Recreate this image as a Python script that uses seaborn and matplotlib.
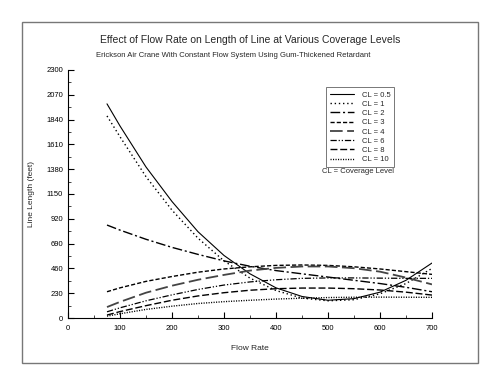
import numpy as np
import pandas as pd
import matplotlib
matplotlib.use("Agg")
import matplotlib.pyplot as plt
from matplotlib.patches import Rectangle
from matplotlib.ticker import MultipleLocator
import seaborn as sns

flow = [75, 100, 150, 200, 250, 300, 350, 400, 450, 500, 550, 600, 650, 700]

cl_05 = [1985, 1780, 1400, 1080, 800, 580, 410, 280, 200, 165, 180, 240, 350, 510]
cl_1 = [1873, 1680, 1310, 1000, 740, 530, 370, 255, 185, 160, 170, 225, 320, 460]
cl_2 = [862, 815, 730, 655, 590, 530, 480, 440, 410, 380, 350, 320, 285, 244]
cl_3 = [244, 280, 340, 385, 425, 455, 475, 488, 492, 488, 475, 455, 430, 405]
cl_4 = [102, 150, 235, 300, 355, 400, 440, 465, 478, 478, 462, 430, 375, 312]
cl_6 = [58, 95, 160, 215, 265, 306, 335, 355, 368, 372, 372, 370, 368, 368]
cl_8 = [28, 60, 115, 165, 205, 235, 258, 272, 278, 278, 272, 260, 240, 213]
cl_10 = [18, 40, 80, 110, 135, 152, 165, 176, 184, 190, 193, 194, 193, 192]

labels = ["CL = 0.5", "CL = 1", "CL = 2", "CL = 3", "CL = 4", "CL = 6", "CL = 8", "CL = 10"]
series = [cl_05, cl_1, cl_2, cl_3, cl_4, cl_6, cl_8, cl_10]

styles = [
    ("-", 0.8, "black"),
    ((0, (1, 2)), 1.0, "black"),
    ((0, (7, 2, 1.5, 2)), 1.0, "black"),
    ((0, (3, 1.5)), 1.0, "black"),
    ((0, (7, 2.5)), 1.3, "#444444"),
    ((0, (5, 1.5, 1, 1.5, 1, 1.5)), 0.9, "black"),
    ((0, (5, 2)), 1.0, "black"),
    ((0, (0.8, 1)), 1.0, "black"),
]

sns.set_style("ticks")
plt.rcParams["font.family"] = ["Liberation Sans", "DejaVu Sans"]

fig = plt.figure(figsize=(5, 3.86), dpi=100)
ax = fig.add_axes([0.136, 0.176, 0.728, 0.643])

for lab, vals, (ls, lw, col) in zip(labels, series, styles):
    sns.lineplot(x=flow, y=vals, ax=ax, color=col, linestyle=ls, linewidth=lw, label=lab)

ax.set_xlim(0, 700)
ax.set_ylim(0, 2300)
ax.xaxis.set_major_locator(MultipleLocator(100))
ax.xaxis.set_minor_locator(MultipleLocator(50))
ax.yaxis.set_major_locator(MultipleLocator(230))
ax.yaxis.set_minor_locator(MultipleLocator(115))
ax.tick_params(which="major", direction="in", length=4, width=0.8, labelsize=5.5, colors="black")
ax.tick_params(which="minor", direction="in", length=2, width=0.6)
ax.tick_params(axis="x", pad=5)
sns.despine(ax=ax)
for sp in ("left", "bottom"):
    ax.spines[sp].set_linewidth(0.8)
    ax.spines[sp].set_color("black")

ax.set_xlabel("Flow Rate", fontsize=6, labelpad=9)
ax.set_ylabel("Line Length (feet)", fontsize=6, labelpad=8)

leg = ax.legend(loc="upper left", bbox_to_anchor=(0.698, 0.945), fontsize=5.5, frameon=True,
                fancybox=False, edgecolor="#555555", handlelength=3.2, handletextpad=1.0,
                labelspacing=0.25, borderpad=0.5)
leg.get_frame().set_linewidth(0.7)
ax.text(0.797, 0.589, "CL = Coverage Level", transform=ax.transAxes, fontsize=5.5, ha="center", va="center")

fig.text(0.5, 0.896, "Effect of Flow Rate on Length of Line at Various Coverage Levels",
         ha="center", va="center", fontsize=7.5)
fig.text(0.466, 0.857, "Erickson Air Crane With Constant Flow System Using Gum-Thickened Retardant",
         ha="center", va="center", fontsize=5.5)

fig.patches.append(Rectangle((0.044, 0.0596), 0.912, 0.883, transform=fig.transFigure,
                             fill=False, edgecolor="#777777", linewidth=1.0))

fig.savefig("out.png", dpi=100)
